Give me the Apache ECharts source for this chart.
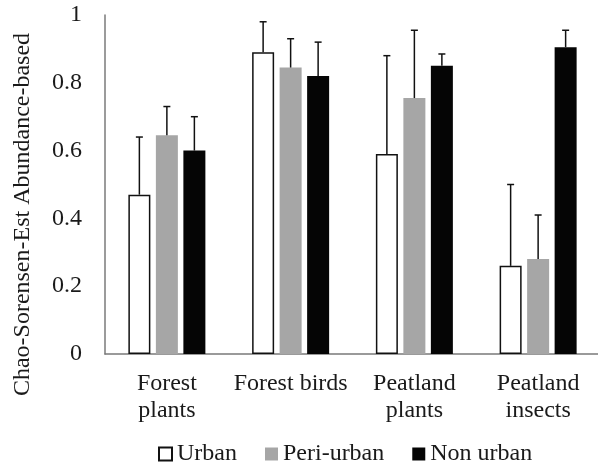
<!DOCTYPE html>
<html>
<head>
<meta charset="utf-8">
<script src="https://cdn.jsdelivr.net/npm/echarts@6/dist/echarts.min.js"></script>
<style>
  html, body { margin: 0; padding: 0; background: #fff; }
  #chart { width: 598px; height: 464px; }
</style>
</head>
<body>
<div id="chart"></div>
<script>
// Taxon groups along the x axis
const categories = ['Forest\nplants', 'Forest birds', 'Peatland\nplants', 'Peatland\ninsects'];
const seriesNames = ['Urban', 'Peri-urban', 'Non urban'];

// Mean Chao-Sorensen similarity per landscape type
const urban = [0.47, 0.89, 0.59, 0.26];
const periUrban = [0.645, 0.845, 0.755, 0.28];
const nonUrban = [0.60, 0.82, 0.85, 0.905];

// Upper error (standard deviation) per landscape type
const urbanErr = [0.17, 0.09, 0.29, 0.24];
const periUrbanErr = [0.085, 0.085, 0.20, 0.13];
const nonUrbanErr = [0.10, 0.10, 0.035, 0.05];

// Y axis ticks
const yMin = 0, yMax = 1, yStep = 0.2;

const FONT = "'Liberation Serif', 'Times New Roman', serif";
const BAR_W = 22;
const BAR_GAP = 0.25;           // fraction of bar width
const PITCH = BAR_W * (1 + BAR_GAP);

const means = [urban, periUrban, nonUrban];
const errs = [urbanErr, periUrbanErr, nonUrbanErr];
const barStyles = [
  { color: '#ffffff', borderColor: '#111111', borderWidth: 1.5 },
  { color: '#a6a6a6' },
  { color: '#050505' }
];

const chart = echarts.init(document.getElementById('chart'), null, { renderer: 'canvas' });

const barSeries = seriesNames.map((name, i) => ({
  name: name,
  type: 'bar',
  data: means[i],
  barWidth: BAR_W,
  barGap: (BAR_GAP * 100) + '%',
  itemStyle: barStyles[i],
  emphasis: { disabled: true },
  z: 2
}));

// Upper error whiskers, one custom series per landscape type
const errSeries = seriesNames.map((name, i) => ({
  type: 'custom',
  name: name + ' error',
  data: means[i].map((m, k) => [k, m, m + errs[i][k]]),
  encode: { x: 0, y: [1, 2] },
  z: 3,
  silent: true,
  renderItem: function (params, api) {
    const offset = (i - 1) * PITCH;
    const base = api.coord([api.value(0), api.value(1)]);
    const top = api.coord([api.value(0), api.value(2)]);
    const x = base[0] + offset;
    const cap = 3.5;
    const style = { stroke: '#111111', lineWidth: 1.5 };
    return {
      type: 'group',
      children: [
        { type: 'line', shape: { x1: x, y1: base[1], x2: x, y2: top[1] }, style: style },
        { type: 'line', shape: { x1: x - cap, y1: top[1], x2: x + cap, y2: top[1] }, style: style }
      ]
    };
  }
}));

chart.setOption({
  animation: false,
  backgroundColor: '#ffffff',
  textStyle: { fontFamily: FONT },
  grid: { left: 105, right: -2, top: 15, bottom: 110, outerBoundsMode: 'none', containLabel: false },
  legend: {
    data: seriesNames,
    left: 158,
    top: 442,
    padding: 0,
    itemWidth: 13,
    itemHeight: 13,
    itemGap: 28,
    icon: 'rect',
    selectedMode: false,
    textStyle: { fontFamily: FONT, fontSize: 24, color: '#1a1a1a' }
  },
  xAxis: {
    type: 'category',
    data: categories,
    axisLine: { lineStyle: { color: '#7a7a7a', width: 1.5 } },
    axisTick: { show: false },
    axisLabel: {
      fontFamily: FONT,
      fontSize: 24,
      color: '#1a1a1a',
      lineHeight: 27,
      margin: 16,
      interval: 0
    }
  },
  yAxis: {
    type: 'value',
    min: yMin,
    max: yMax,
    interval: yStep,
    name: 'Chao-Sorensen-Est Abundance-based',
    nameLocation: 'middle',
    nameRotate: 90,
    nameGap: 70,
    nameTextStyle: { fontFamily: FONT, fontSize: 24, color: '#1a1a1a', padding: [0, 60, 0, 0] },
    axisLine: { show: true, lineStyle: { color: '#7a7a7a', width: 1.5 } },
    axisTick: { show: false },
    splitLine: { show: false },
    axisLabel: { fontFamily: FONT, fontSize: 24, color: '#1a1a1a', margin: 23 }
  },
  series: barSeries.concat(errSeries)
});
</script>
</body>
</html>
